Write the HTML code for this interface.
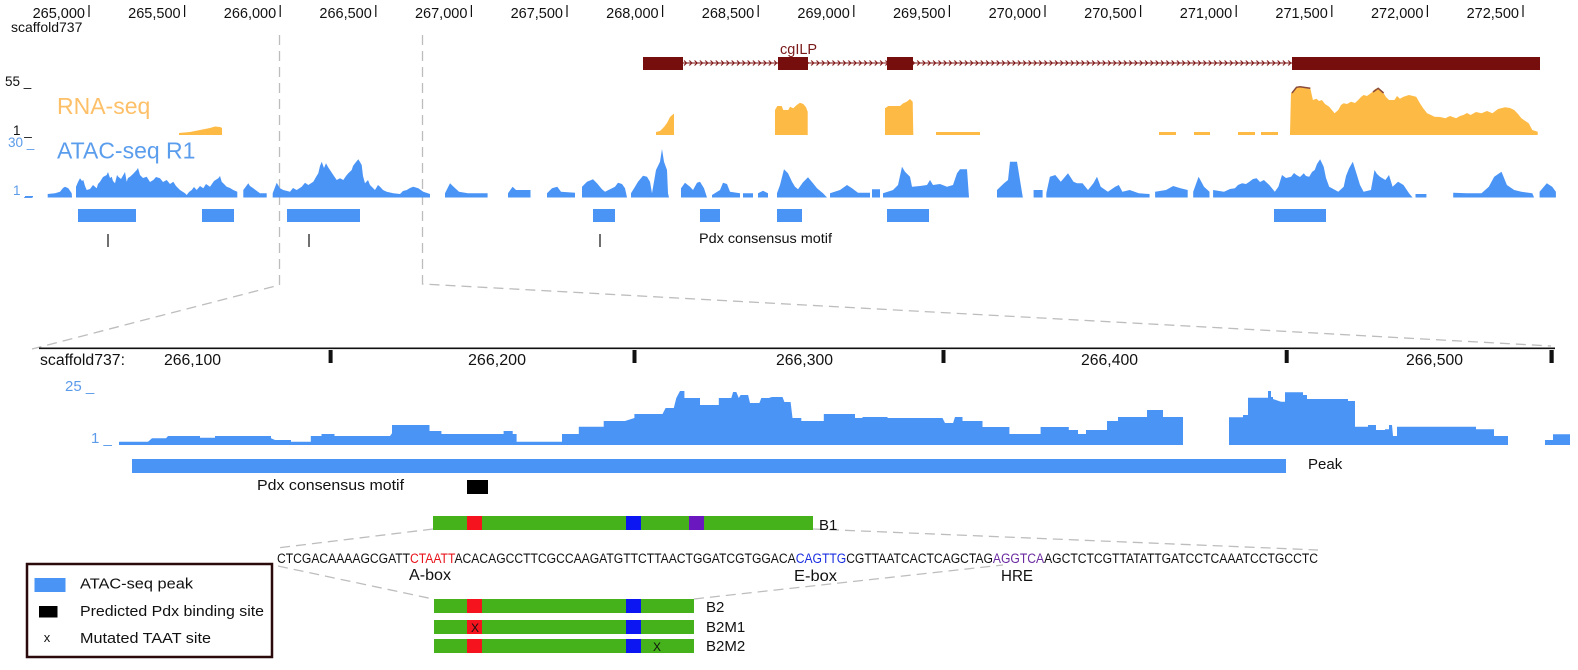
<!DOCTYPE html>
<html><head><meta charset="utf-8"><style>
html,body{margin:0;padding:0;background:#fff;}
svg{display:block;font-family:"Liberation Sans",Arial,sans-serif;}
</style></head><body>
<svg width="1578" height="670" viewBox="0 0 1578 670" xmlns="http://www.w3.org/2000/svg">
<defs>
<pattern id="chev" patternUnits="userSpaceOnUse" x="683" y="56" width="5.3" height="14">
<path d="M1,4.5 L3.6,7 L1,9.5" stroke="#7a0e0e" stroke-width="1" fill="none"/>
</pattern>
</defs>
<rect width="1578" height="670" fill="#fff"/>

<!-- top ruler -->
<g font-size="14.5" fill="#111" text-anchor="end">
<text x="85" y="18">265,000</text>
<text x="180.6" y="18">265,500</text>
<text x="276.2" y="18">266,000</text>
<text x="371.8" y="18">266,500</text>
<text x="467.4" y="18">267,000</text>
<text x="563" y="18">267,500</text>
<text x="658.6" y="18">268,000</text>
<text x="754.2" y="18">268,500</text>
<text x="849.8" y="18">269,000</text>
<text x="945.4" y="18">269,500</text>
<text x="1041" y="18">270,000</text>
<text x="1136.6" y="18">270,500</text>
<text x="1232.2" y="18">271,000</text>
<text x="1327.8" y="18">271,500</text>
<text x="1423.4" y="18">272,000</text>
<text x="1519" y="18">272,500</text>
</g>
<g stroke="#111" stroke-width="1.2">
<line x1="89" y1="5" x2="89" y2="17"/><line x1="184.6" y1="5" x2="184.6" y2="17"/>
<line x1="280.2" y1="5" x2="280.2" y2="17"/><line x1="375.8" y1="5" x2="375.8" y2="17"/>
<line x1="471.4" y1="5" x2="471.4" y2="17"/><line x1="567" y1="5" x2="567" y2="17"/>
<line x1="662.6" y1="5" x2="662.6" y2="17"/><line x1="758.2" y1="5" x2="758.2" y2="17"/>
<line x1="853.8" y1="5" x2="853.8" y2="17"/><line x1="949.4" y1="5" x2="949.4" y2="17"/>
<line x1="1045" y1="5" x2="1045" y2="17"/><line x1="1140.6" y1="5" x2="1140.6" y2="17"/>
<line x1="1236.2" y1="5" x2="1236.2" y2="17"/><line x1="1331.8" y1="5" x2="1331.8" y2="17"/>
<line x1="1427.4" y1="5" x2="1427.4" y2="17"/><line x1="1523" y1="5" x2="1523" y2="17"/>
</g>
<text x="11" y="32" font-size="14" fill="#111">scaffold737</text>

<!-- dashed zoom guides -->
<g stroke="#bdbdbd" stroke-width="1.3" fill="none" stroke-dasharray="10,6">
<polyline points="279.5,35 279.5,285 32,349"/>
<polyline points="422.5,35 422.5,284 1551,346"/>
<line x1="433" y1="529" x2="277" y2="548"/>
<line x1="278" y1="566" x2="433" y2="599"/>
<line x1="813" y1="529" x2="1318" y2="550"/>
<line x1="694" y1="599" x2="1003" y2="565"/>
</g>

<!-- gene -->
<rect x="683" y="56" width="609" height="14" fill="url(#chev)"/>
<line x1="683" y1="63" x2="1292" y2="63" stroke="#7a0e0e" stroke-width="1"/>
<g fill="#770e0e">
<rect x="643" y="57" width="40" height="13"/>
<rect x="778" y="57" width="30" height="13"/>
<rect x="887" y="57" width="26" height="13"/>
<rect x="1292" y="57" width="248" height="13"/>
</g>
<text x="780" y="54" font-size="14.5" fill="#7a1a1a">cgILP</text>

<!-- track scale labels -->
<text x="5" y="86" font-size="13.5" fill="#111">55 _</text>
<text x="13" y="135" font-size="13.5" fill="#111">1 _</text>
<text x="8" y="147" font-size="13.5" fill="#5b9bea">30 _</text>
<text x="13" y="195" font-size="13.5" fill="#5b9bea">1 _</text>
<text x="57" y="114" font-size="23" fill="#fdc068">RNA-seq</text>
<text x="57" y="158.5" font-size="23" fill="#5b9ded">ATAC-seq R1</text>

<!-- RNA-seq -->
<g fill="#fdba45">
<polygon points="179,135 179,133 190,132 200,130 210,128 215,126.5 220,127 222,128 222,135"/>
<polygon points="656,135 656,132 660,131 664,127 667,123 670,117 674,113.5 674,135"/>
<polygon points="775,135 775,110 777.3,106 781.7,106 783.3,110 788.3,110 790,106.7 793.3,108.3 796.7,105 800,102.7 803.3,104 806,107.3 807.7,111.7 807.7,135"/>
<polygon points="885,135 885,108.3 888.3,106 900,106 903.3,103.3 906.7,101.7 910,99 912.7,101.7 913.3,135"/>
<rect x="936" y="132" width="44" height="3"/>
<rect x="1159" y="132" width="17" height="3"/>
<rect x="1194" y="132" width="16" height="3"/>
<rect x="1238" y="132" width="17" height="3"/>
<rect x="1261" y="132" width="17" height="3"/>
<polygon points="1290,135 1290,133.3 1291,93.3 1296.5,87.3 1300.2,86.7 1305,88 1310.3,88.3 1312.9,100 1316.5,98.7 1319,101 1321.9,100 1325,104 1329.2,106.7 1334.6,113.3 1338.3,110 1341,105 1343.7,103.3 1347,104 1351,101.7 1355,103 1358.2,100 1361,97 1363.6,95 1367,96 1372.7,91.7 1375,89 1378.2,88.3 1381,91 1383.6,93.3 1386,97 1389,100 1394.5,100 1397,96 1399.9,98.7 1403.5,96.7 1409,95 1416.2,96.7 1419.9,103.3 1423,108 1427.1,113.3 1431,115 1434.4,116.7 1440,117 1445.3,118.3 1450,116 1456.1,118.3 1460,116 1463.4,115 1467,113 1470.6,115 1476,112 1481.5,113.3 1487,111 1492.4,113.3 1498,109 1505.1,107.3 1510,108 1514.2,110 1518,114 1521.4,118.3 1528.7,123.3 1532.3,130 1537.7,131.7 1537.7,135"/>
</g>
<g stroke="#8a4a3a" stroke-width="1.5" fill="none">
<polyline points="1292,93 1296.5,87.3 1300.2,86.7 1305,87.5 1310.3,88.3"/>
<polyline points="1373,92 1378.2,88.3 1383.6,93"/>
</g>

<!-- ATAC top -->
<polygon fill="#4a94f6" points="25,197.5 25,196 33,196 33,197.5 47.7,197.5 47.7,194 55,193.3 60,191.7 63,188 65,186.7 68.3,188.3 71.7,193.3 72,197.5 76,197.5 76,186.7 78,182 80,178.3 82,181 83.3,180 85,186 86.7,190 90,189 93,185 96.7,188.3 98,184 100,181.7 103,177 106.7,175 108,172 110,178 111.7,176.7 113,181 115,183.3 117,175 118.3,176.7 121,179 123.3,175 125,172 126.7,181.7 128,178 130,176.7 133,174 136.7,170 138,168 140,175 143,178 146.7,176.7 150,182 153.3,180 156,177 160,178.3 163,182 166.7,180 170,184 173.3,181.7 176,186 180,190 185,193.3 186.7,195 189,192 191.7,190 194,187 196.7,190 200,186 203.3,188.3 206,184 210,186.7 214,181 218.3,178.3 220,176 221.7,181.7 224,184 226.7,186.7 230,188 233.3,190 237.3,191.7 237.3,197.5 243.3,197.5 243.3,190 248.3,183.3 250,186 253.3,188.3 260,193.3 266.7,193.3 266.7,197.5 272.7,197.5 272.7,193.3 276.7,182.7 280,188.3 283.3,190 290,191.7 293,188 296.7,190 301.7,186.7 305,182.7 308.3,185 313.3,181.7 316,177 318.3,173.3 320,166 321.7,161.7 324,168 326,163.3 328,167 330,170 333.3,175 336.7,180 340,178.3 343.3,180 346,176 348.3,173.3 351.7,170 353,166 355,163.3 358.3,159.3 360,162 361.7,165 363,176 365,183.3 368,180 370,185 375,190 378,185 380,186.7 383,190 386.7,191.7 393.3,193.3 400,194 403,191 406.7,190 410,188 413.3,186.7 418.3,188.3 423.3,191.7 430,194 430,197.5 445,197.5 445,193.3 450,183.3 453.6,186.7 459,191.7 468,193.3 487.6,193.3 487.6,197.5 508,197.5 508,193.3 512.6,186.7 516,190 530.5,190 530.5,197.5 547,197.5 547,193.3 552,188.3 557.3,186.7 561,191.7 575,192.7 575,197.5 582,197.5 582,186.7 587,181.7 593,179.3 597,183.3 602,189.3 605,191.7 610,189.3 615,186.7 618,182.7 622,184 625,188.3 627,197.5 631,197.5 631,193.3 635,186.7 638,181.7 643,175.7 647,176.7 650,181.7 652,193.3 656,170 660,161.7 662,149 664,161.7 667,170 668,193.3 669,197.5 681,197.5 681,188.3 685,182.7 690,186.7 693,190 697,182.7 700,181.7 704,188.3 707,197.5 712,197.5 712,195 720,190 723,182.7 727,184 730,191.7 740,193.3 740,197.5 743,197.5 743,193.3 753,193.3 753,197.5 758,197.5 758,193.3 763,190.7 768,193.3 768,197.5 777,197.5 777,193.3 780,185 784,169.3 788,173.3 792,181.7 795,186.7 798,189.3 803,182.3 808,177.3 813,183.3 817,188.3 823,193.3 827,197.5 830,197.5 830,193.3 840,190 847,185 852,188.3 858,192.7 870,192.7 870,197.5 872,197.5 872,189.3 880,189.3 880,197.5 883,197.5 883,193.3 893,190 898,185 902,166.7 905,171.7 910,176.7 912,186.7 920,186 927,185 930,180 933,185 940,184 947,186.7 953,185 957,173.3 960,169.3 967,169.3 969,197.5 997,197.5 997,190 1004,183.3 1008,180 1010,161.7 1017,161.7 1022.7,196.7 1023,197.5 1033.6,197.5 1033.6,190 1042.6,190 1042.6,197.5 1046.3,197.5 1046.3,193.3 1049.9,176.7 1055.3,175 1060.8,181.7 1068,173.3 1073.5,181.7 1077.1,183.3 1082.5,183.3 1088,190 1093.4,183.3 1097,176.7 1100.7,186.7 1107.9,191.7 1115.2,186.7 1118.8,185 1122.4,191.7 1129.7,190 1138.8,193.3 1149.6,194 1149.6,197.5 1155.1,197.5 1155.1,191.7 1166,190 1173.2,186 1180.5,188.3 1187.7,190 1187.7,197.5 1193.2,197.5 1193.2,191.7 1198.6,176.7 1204,186.7 1209.5,191.7 1209.5,197.5 1213.1,197.5 1213.1,190 1224,191.7 1230,189 1234.9,188.3 1238,185 1242.1,183.3 1246,184 1249.4,181.7 1253,179 1256.6,178.3 1260,182 1263.9,180 1269.3,185 1274.8,191.7 1278.4,186.7 1282,175 1286,178 1291.1,176.7 1294,173 1296.5,175 1300,177 1303.8,173.3 1306,176 1309.2,176.7 1312,172 1314.7,170 1317,164 1320.1,159.3 1323.7,166.7 1326,178 1329.2,186.7 1338.3,191.7 1343.7,186.7 1346,176 1349.1,168.3 1352.8,161.7 1356.4,173.3 1360,185 1363.6,191.7 1370.9,190 1374.5,170 1377,174 1380,176.7 1385.4,180 1389,175 1392.6,186.7 1398.1,181.7 1403.5,185 1409,193.3 1412.6,197.5 1415.5,197.5 1415.5,194 1426.4,194 1426.4,197.5 1453.2,197.5 1453.2,192.7 1467,193.3 1481.5,193.3 1488.8,186.7 1494.2,176.7 1501.5,171.7 1506.9,185 1514.2,190 1521.4,191.7 1532.3,193.3 1534.1,197.5 1539.6,197.5 1539.6,191.7 1546.8,183.3 1552.2,186.7 1555.9,191.7 1555.9,197.5"/>

<!-- top peaks -->
<g fill="#4a94f6">
<rect x="78" y="209" width="58" height="13"/>
<rect x="202" y="209" width="32" height="13"/>
<rect x="287" y="209" width="73" height="13"/>
<rect x="593" y="209" width="22" height="13"/>
<rect x="700" y="209" width="20" height="13"/>
<rect x="777" y="209" width="25" height="13"/>
<rect x="887" y="209" width="42" height="13"/>
<rect x="1274" y="209" width="52" height="13"/>
</g>
<g stroke="#111" stroke-width="1.2">
<line x1="108" y1="234" x2="108" y2="247"/>
<line x1="309" y1="234" x2="309" y2="247"/>
<line x1="600" y1="234" x2="600" y2="247"/>
</g>
<text x="699" y="243" font-size="13.7" fill="#111" textLength="133" lengthAdjust="spacingAndGlyphs">Pdx consensus motif</text>

<!-- middle ruler -->
<line x1="39" y1="348.3" x2="1555" y2="348.3" stroke="#111" stroke-width="1.6"/>
<g fill="#111">
<rect x="328.6" y="350" width="4" height="13"/>
<rect x="632.5" y="350" width="4" height="13"/>
<rect x="941.5" y="350" width="4" height="13"/>
<rect x="1284.7" y="350" width="4" height="13"/>
<rect x="1549.5" y="350" width="4.2" height="13"/>
</g>
<g font-size="15.5" fill="#111">
<text x="40" y="365" textLength="85" lengthAdjust="spacingAndGlyphs">scaffold737:</text>
<text x="164" y="365" textLength="57" lengthAdjust="spacingAndGlyphs">266,100</text>
<text x="468" y="365" textLength="58" lengthAdjust="spacingAndGlyphs">266,200</text>
<text x="776" y="365" textLength="57" lengthAdjust="spacingAndGlyphs">266,300</text>
<text x="1081" y="365" textLength="57" lengthAdjust="spacingAndGlyphs">266,400</text>
<text x="1406" y="365" textLength="57" lengthAdjust="spacingAndGlyphs">266,500</text>
</g>
<text x="65" y="391" font-size="15" fill="#5b9bea">25 _</text>
<text x="91" y="443" font-size="15" fill="#5b9bea">1 _</text>

<!-- middle ATAC -->
<polygon fill="#4a94f6" points="119,445 119,441.7 148,441.7 152,438.3 166,438.3 168,436 200,436 200,437.7 215,437.7 215,436 271,436 271,438.3 275,440 291,440 291,441.7 310.8,441.7 310.8,436 321.5,436 321.5,434 334.5,434 334.5,436 390,436 392,433.3 392,425 429.5,425 429.5,431 441.4,431 441.4,434 503.6,434 503.6,431 512.7,431 512.7,434 516.6,434 516.6,441.7 562,441.7 562,434 578.8,434 578.8,426.7 603.7,426.7 603.7,421 625,421 634.4,418 634.4,414 662.5,414 665.6,408 673.8,408 676.3,398 680,391 684.4,391 684.4,398 700,398 700,405 718.8,405 718.8,398 731.3,398 733.1,392 736.3,392 738.8,398 740.6,395 748.1,395 750,403 759.4,403 761.3,398 768.8,398 771.9,397 782.5,397 784.4,402 790.6,402 792.5,418 801.3,418 801.3,421 823.8,421 823.8,414 855,414 855,418 862.5,418 862.5,417 887.5,417 887.5,418 942.5,418 945,423 953.1,423 955,417 962.5,417 962.5,421 982.5,421 982.5,427 1009.4,427 1009.4,434 1040.6,434 1040.6,427 1068.8,427 1068.8,430 1078,430 1078,434 1086,434 1086,430 1107,430 1107,421 1118,421 1118,417 1147,417 1147,410 1163,410 1163,417 1183,417 1183,445 1229,445 1229,417.3 1243,417.3 1243,415 1248,415 1248,397.7 1268,397.7 1268,391 1271,391 1271,397 1273,397 1273,399 1281,401.7 1285,401.7 1285,392.3 1303,392.3 1303,395 1307,395 1307,399 1348,399 1348,401 1355,401 1355,426.7 1368,426.7 1368,425 1376,425 1376,430 1385,430 1385,429.3 1389,429.3 1389,425 1392,425 1393,436 1397,436 1397,426.7 1476,426.7 1476,429.3 1494,429.3 1494,436 1508,436 1508,445 1545,445 1545,440 1553,440 1553,434.3 1570,434.3 1570,445"/>

<!-- middle peak + motif -->
<rect x="132" y="459" width="1154" height="14" fill="#4a94f6"/>
<text x="1308" y="469" font-size="15" fill="#111">Peak</text>
<text x="257" y="490" font-size="15" fill="#111" textLength="147" lengthAdjust="spacingAndGlyphs">Pdx consensus motif</text>
<rect x="467" y="480" width="21" height="14" fill="#000"/>

<!-- constructs -->
<g>
<rect x="433" y="516" width="380" height="14" fill="#45b21b"/>
<rect x="467" y="516" width="15" height="14" fill="#f5141e"/>
<rect x="626" y="516" width="15" height="14" fill="#0b16f2"/>
<rect x="689" y="516" width="15" height="14" fill="#6a17c0"/>

<rect x="434" y="599" width="260" height="14" fill="#45b21b"/>
<rect x="467" y="599" width="15" height="14" fill="#f5141e"/>
<rect x="626" y="599" width="15" height="14" fill="#0b16f2"/>

<rect x="434" y="620" width="260" height="14" fill="#45b21b"/>
<rect x="467" y="620" width="15" height="14" fill="#f5141e"/>
<rect x="626" y="620" width="15" height="14" fill="#0b16f2"/>

<rect x="434" y="639" width="260" height="14" fill="#45b21b"/>
<rect x="467" y="639" width="15" height="14" fill="#f5141e"/>
<rect x="626" y="639" width="15" height="14" fill="#0b16f2"/>
</g>
<text x="475" y="632" font-size="12" fill="#111" text-anchor="middle">X</text>
<text x="657" y="651" font-size="12" fill="#111" text-anchor="middle">X</text>
<g font-size="15" fill="#111">
<text x="819" y="530">B1</text>
<text x="706" y="612">B2</text>
<text x="706" y="632">B2M1</text>
<text x="706" y="651">B2M2</text>
</g>

<!-- sequence -->
<text x="277" y="563" font-size="13.5" fill="#111" textLength="1041" lengthAdjust="spacingAndGlyphs">CTCGACAAAAGCGATT<tspan fill="#e8141c">CTAATT</tspan>ACACAGCCTTCGCCAAGATGTTCTTAACTGGATCGTGGACA<tspan fill="#1a2ee0">CAGTTG</tspan>CGTTAATCACTCAGCTAG<tspan fill="#6a2aa0">AGGTCA</tspan>AGCTCTCGTTATATTGATCCTCAAATCCTGCCTC</text>
<g font-size="15.5" fill="#111">
<text x="409" y="580" textLength="42" lengthAdjust="spacingAndGlyphs">A-box</text>
<text x="794" y="581" textLength="43" lengthAdjust="spacingAndGlyphs">E-box</text>
<text x="1001" y="581" textLength="32" lengthAdjust="spacingAndGlyphs">HRE</text>
</g>

<!-- legend -->
<rect x="27" y="564" width="245" height="93" fill="#fff" stroke="#2a0a0a" stroke-width="2.5"/>
<rect x="34.5" y="578" width="31" height="14" fill="#4a94f6"/>
<rect x="39" y="606" width="18.5" height="11.5" fill="#000"/>
<text x="47" y="642" font-size="13" fill="#111" text-anchor="middle">x</text>
<g font-size="15" fill="#111">
<text x="80" y="588.5" textLength="113" lengthAdjust="spacingAndGlyphs">ATAC-seq peak</text>
<text x="80" y="616" textLength="184" lengthAdjust="spacingAndGlyphs">Predicted Pdx binding site</text>
<text x="80" y="643" textLength="131" lengthAdjust="spacingAndGlyphs">Mutated TAAT site</text>
</g>
</svg>
</body></html>
